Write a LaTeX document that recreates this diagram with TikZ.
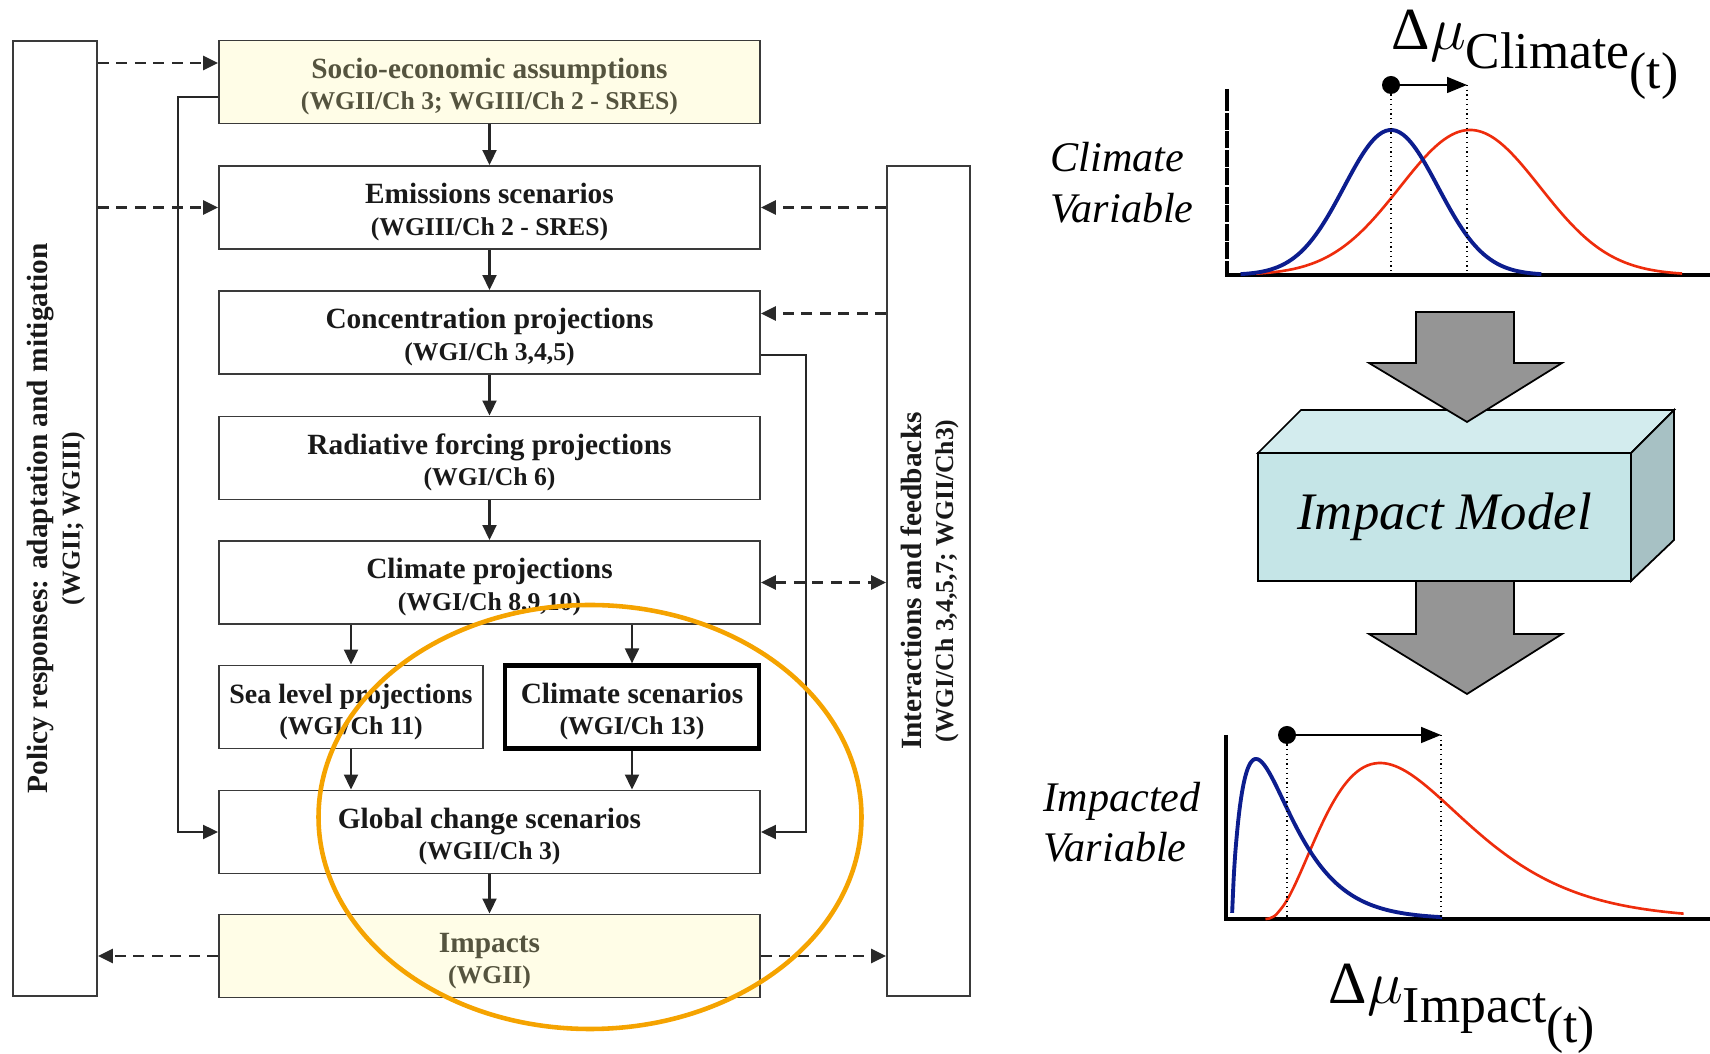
\documentclass[tikz,border=0pt]{standalone}
\usepackage{fontspec}
\setmainfont{Liberation Serif}
\usetikzlibrary{arrows.meta,calc}

\definecolor{frameline}{HTML}{3A3A3A}
\definecolor{dashline}{HTML}{2A2A2A}
\definecolor{paleyellow}{HTML}{FFFDE7}
\definecolor{olivetext}{HTML}{55543F}
\definecolor{ringorange}{HTML}{F5A300}
\definecolor{curveblue}{HTML}{0C1D8E}
\definecolor{curvered}{HTML}{EE2C0C}
\definecolor{modelfront}{HTML}{C5E5E7}
\definecolor{modeltop}{HTML}{D3ECEE}
\definecolor{modelside}{HTML}{A7C1C4}
\definecolor{fatgray}{HTML}{959595}

% box title over its chapter reference (set a little smaller)
\newcommand{\boxtext}[3][8.4pt]{\rule{0pt}{#1}#2\\{\fontsize{7.3}{9}\selectfont #3}}
% shift of the mean, e.g. \meanshift{Climate}
\newcommand{\meanshift}[1]{{\fontsize{17}{17}\selectfont Δ$\mu$}\raisebox{-1.9mm}{\fontsize{14.7}{15}\selectfont #1\raisebox{-2mm}{(t)}}}

\tikzset{
    flowbox/.style={draw=frameline, line width=0.55pt, fill=white, text=black!90,
        minimum width=54.1mm, minimum height=8.3mm, inner sep=0pt,
        align=center, font=\fontsize{8.35}{9}\selectfont\bfseries},
    inputbox/.style={flowbox, fill=paleyellow, text=olivetext},
    sidebox/.style={flowbox, rotate=90},
    flow/.style={->, line width=0.6pt, draw=black!85},
    feed/.style={->, line width=0.8pt, draw=dashline, dash pattern=on 1.1mm off 0.75mm},
    axis/.style={line width=1.3pt},
    guide/.style={densely dotted, line width=0.35pt},
    shiftarrow/.style={-{Triangle[length=2mm,width=1.6mm]}, line width=0.45pt},
    fatarrow/.style={fill=fatgray, draw=black, line width=0.5pt},
    modelface/.style={draw=black, line width=0.5pt},
    varlabel/.style={font=\fontsize{12}{14.4}\selectfont\itshape, align=left, inner sep=0pt, anchor=west},
}

\begin{document}
\begin{tikzpicture}[x=0.1mm, y=-0.1mm, >={Triangle[length=1.5mm,width=1.4mm]}]

    \useasboundingbox (0,0) rectangle (1710,1054);

    % Chain of projections
    \node[inputbox] (socio) at (489.5,82) {\boxtext{Socio-economic assumptions}{(WGII/Ch 3; WGIII/Ch 2 - SRES)}};
    \node[flowbox] (emis) at (489.5,207.5) {\boxtext{Emissions scenarios}{(WGIII/Ch 2 - SRES)}};
    \node[flowbox] (conc) at (489.5,332.5) {\boxtext{Concentration projections}{(WGI/Ch 3,4,5)}};
    \node[flowbox] (rad) at (489.5,458) {\boxtext{Radiative forcing projections}{(WGI/Ch 6)}};
    \node[flowbox] (climproj) at (489.5,582.5) {\boxtext{Climate projections}{(WGI/Ch 8,9,10)}};
    \node[flowbox, minimum width=26.4mm, font=\fontsize{7.95}{9}\selectfont\bfseries] (sea) at (351,707)
        {\boxtext{Sea level projections}{(WGI/Ch 11)}};
    \node[flowbox, minimum width=25.4mm, line width=1.2pt, draw=black] (scen) at (632,707) {\boxtext{Climate scenarios}{(WGI/Ch 13)}};
    \node[flowbox] (global) at (489.5,832) {\boxtext{Global change scenarios}{(WGII/Ch 3)}};
    \node[inputbox] (impacts) at (489.5,956) {\boxtext{Impacts}{(WGII)}};

    % Side columns (rotated: south is the right edge, north the left edge)
    \node[sidebox, minimum width=95.5mm, minimum height=8.4mm] (policy) at (55,518.5)
        {\boxtext[6.5pt]{Policy responses: adaptation and mitigation}{(WGII; WGIII)}};
    \node[sidebox, minimum width=83mm, minimum height=8.3mm] (interact) at (928.5,581)
        {\boxtext[6.5pt]{Interactions and feedbacks}{(WGI/Ch 3,4,5,7; WGII/Ch3)}};

    % Main flow
    \foreach \a/\b in {socio/emis, emis/conc, conc/rad, rad/climproj, global/impacts}
        \draw[flow] (\a) -- (\b);
    \draw[flow] (climproj.south -| sea.north) -- (sea.north);
    \draw[flow] (climproj.south -| scen.north) -- (scen.north);
    \draw[flow] (sea.south) -- (sea.south |- global.north);
    \draw[flow] (scen.south) -- (scen.south |- global.north);

    % Bypass lines into global change scenarios
    \coordinate (leftrail) at (178,0);
    \coordinate (rightrail) at (806,0);
    \draw[flow] ([yshift=-1.5mm]socio.west) -| (leftrail |- global.west) -- (global.west);
    \draw[flow] ([yshift=-2.25mm]conc.east) -| (rightrail |- global.east) -- (global.east);

    % Dashed links to the side columns
    \coordinate (socioin) at ([yshift=1.9mm]socio.west);
    \coordinate (concin) at ([yshift=1.9mm]conc.east);
    \draw[feed] (policy.south |- socioin) -- (socioin);
    \draw[feed] (policy.south |- emis.west) -- (emis.west);
    \draw[feed] (interact.north |- emis.east) -- (emis.east);
    \draw[feed] (interact.north |- concin) -- (concin);
    \draw[feed, <->] (climproj.east) -- (interact.north |- climproj.east);
    \draw[feed] (impacts.west) -- (policy.south |- impacts.west);
    \draw[feed] (impacts.east) -- (interact.north |- impacts.east);

    % Highlight
    \draw[ringorange, line width=1.3pt] (590,817) ellipse [x radius=27.15mm, y radius=21.2mm];

    % Climate distribution
    \draw[axis] (1227,89) -- (1227,275) -- (1710,275);
    \foreach \ty in {0,...,8}
        \draw[white, line width=0.3pt] (1223,{112+18.5*\ty}) -- (1231,{112+18.5*\ty});
    \draw[curvered, line width=0.75pt] plot[domain=-3.06:3.03, samples=90, smooth]
        ({1470+70*\x},{275-145*exp(-0.5*(\x)*(\x))});
    \draw[curveblue, line width=1.1pt] plot[domain=-3.2:3.2, samples=90, smooth]
        ({1391+47*\x},{275-145*exp(-0.5*(\x)*(\x))});
    \coordinate (climold) at (1391,85);
    \coordinate (climnew) at (1467,85);
    \draw[guide] (climold) -- (climold |- 0,275);
    \draw[guide] (climnew) -- (climnew |- 0,275);
    \fill (climold) circle [radius=0.9mm];
    \draw[shiftarrow] (climold) -- (climnew);
    \node[anchor=base west, inner sep=0pt] (climshift) at (1391,50) {\meanshift{Climate}};
    \node[varlabel] (climvar) at (1050,183) {Climate\\Variable};

    % Impact model
    \draw[fatarrow] (1416,581) -- (1514,581) -- (1514,634) -- (1562,634) -- (1467,694) -- (1369,634) -- (1416,634) -- cycle;
    \draw[modelface, fill=modeltop] (1258,453) -- (1301,410) -- (1674,410) -- (1631,453) -- cycle;
    \draw[modelface, fill=modelside] (1631,453) -- (1674,410) -- (1674,540) -- (1631,581) -- cycle;
    \draw[modelface, fill=modelfront] (1258,453) rectangle (1631,581);
    \node[font=\fontsize{15}{18}\selectfont\itshape] (model) at (1444.5,517) {Impact Model};
    \draw[fatarrow] (1416,312) -- (1514,312) -- (1514,363) -- (1562,363) -- (1467,422) -- (1369,363) -- (1416,363) -- cycle;

    % Impacted distribution
    \draw[axis] (1226,735) -- (1226,919) -- (1710,919);
    \draw[curvered, line width=0.75pt] plot[domain=0.01:9.1, samples=120, smooth]
        ({1265+46*\x},{919-156*exp(2.5*ln(\x/2.5)+2.5-\x)});
    \draw[curveblue, line width=1.1pt] plot[domain=0.005:7, samples=140, smooth]
        ({1232+30*\x},{919-160*exp(0.8*ln(\x/0.8)+0.8-\x)});
    \coordinate (impold) at (1287,735);
    \coordinate (impnew) at (1441,735);
    \draw[guide] (impold) -- (impold |- 0,919);
    \draw[guide] (impnew) -- (impnew |- 0,919);
    \fill (impold) circle [radius=0.9mm];
    \draw[shiftarrow] (impold) -- (impnew);
    \node[anchor=base west, inner sep=0pt] (impshift) at (1328,1004) {\meanshift{Impact}};
    \node[varlabel] (impvar) at (1043,822) {Impacted\\Variable};

\end{tikzpicture}
\end{document}
